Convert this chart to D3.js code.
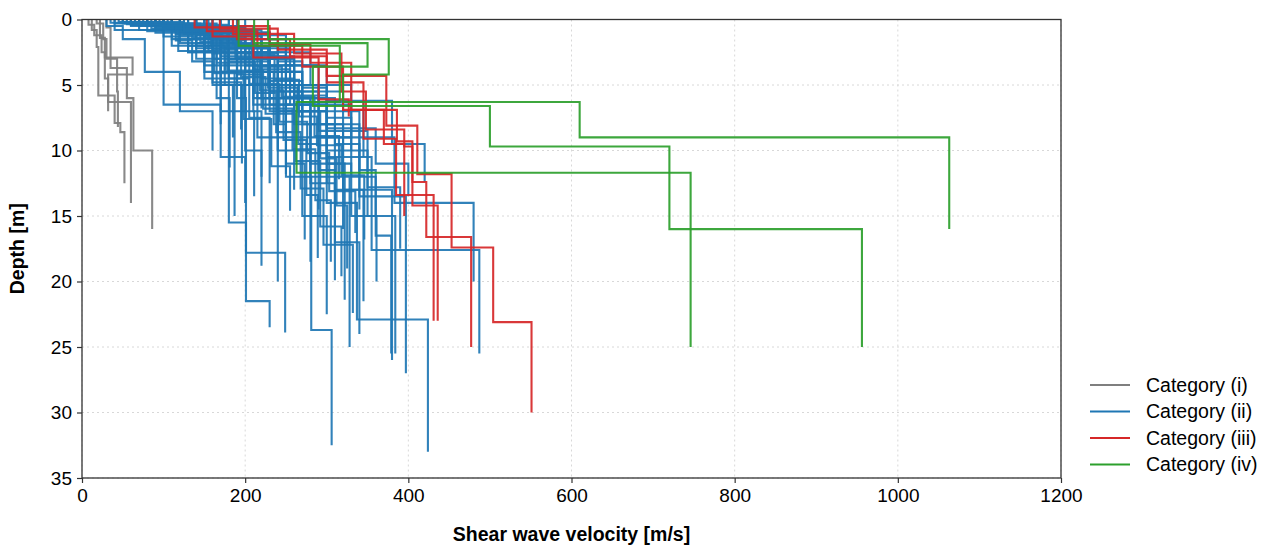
<!DOCTYPE html>
<html><head><meta charset="utf-8">
<script src="https://cdn.jsdelivr.net/npm/d3@7"></script>
<style>body{margin:0;background:#fff;} text{font-family:"Liberation Sans",Arial,sans-serif;fill:#000;}</style>
</head><body><svg id="c" width="1266" height="546"></svg>
<script>
// ---- data: each profile = list of layers [Vs (m/s), bottom depth (m)], top at 0 m ----
const categories = ["Category (i)", "Category (ii)", "Category (iii)", "Category (iv)"];
const xTicks = [0, 200, 400, 600, 800, 1000, 1200];
const yTicks = [0, 5, 10, 15, 20, 25, 30, 35];

const profilesI = [
  [[12,0.8],[18,2.1],[20,5.8],[40,7.9],[47,8.6],[52,12.5]],
  [[22,1.4],[28,2.9],[62,4.2],[32,6.3],[60,14]],
  [[30,0.6],[35,3.7],[55,6.0],[63,10],[86,16]],
  [[18,0.3],[26,1.5],[30,3.0],[43,5.5],[44,8.2]],
  [[8,0.4],[15,1.2],[24,2.5],[28,4.5],[32,7.0]]
];

const profilesII = [
  [[60,0.5],[110,1.5],[150,3.5],[180,15.5],[201,21.5],[230,23.5]],
  [[80,0.4],[130,2.0],[175,5.0],[200,10],[220,18.8]],
  [[100,0.6],[150,2.5],[190,6.0],[201,17.8],[249,23.9]],
  [[70,0.3],[120,1.2],[170,4.0],[215,9.0],[240,20]],
  [[120,0.8],[160,3.0],[210,6.5],[250,12],[281,23.7],[306,32.5]],
  [[150,1.0],[200,3.0],[260,7.0],[300,14],[337,22.9],[424,33]],
  [[90,0.5],[140,1.8],[200,5.0],[240,9.0],[270,15],[300,22.5]],
  [[110,0.7],[170,2.5],[220,6.0],[280,12],[328,25]],
  [[130,1.0],[180,3.2],[230,7.0],[290,11.5],[310,17],[340,24]],
  [[140,0.8],[210,3.0],[260,6.5],[330,12],[360,16.5],[379,25.5]],
  [[160,1.2],[220,4.0],[270,8.0],[320,13],[380,26]],
  [[100,0.5],[190,2.5],[250,6.0],[300,10],[350,15],[384,25.5]],
  [[170,1.0],[230,3.5],[290,7.0],[340,13.5],[397,27]],
  [[180,1.5],[250,5.0],[300,9.0],[383,14],[480,20]],
  [[120,0.6],[200,2.2],[255,5.5],[320,10.5],[355,17.6],[487,25.5]],
  [[90,0.6],[150,2.2],[230,6.0],[280,11],[322,21.4]],
  [[120,0.9],[180,3.0],[240,7.0],[280,12.5],[310,19.9]],
  [[140,1.0],[200,4.0],[260,8.0],[310,13],[345,21.5]],
  [[110,0.8],[170,2.8],[250,6.5],[300,11],[330,15],[361,20]],
  [[80,0.5],[140,2.0],[190,5.0],[240,10],[280,18.5]],
  [[60,0.4],[100,1.3],[140,3.0],[170,7.0],[211,13.5]],
  [[100,0.6],[160,2.6],[210,6.0],[250,11],[273,16.8]],
  [[70,0.5],[120,1.8],[150,4.0],[187,15]],
  [[90,0.7],[130,2.5],[165,6.0],[181,11.3]],
  [[110,0.5],[150,2.0],[170,5.0],[196,11]],
  [[130,0.8],[180,3.0],[210,7.0],[220,12]],
  [[50,0.3],[90,1.0],[130,2.5],[160,5.0],[185,9.0]],
  [[40,0.3],[70,0.8],[110,2.0],[150,4.5],[170,8.0]],
  [[150,0.6],[190,2.0],[240,5.0],[265,9.5],[290,14.5]],
  [[170,0.9],[210,3.0],[250,7.0],[300,10.5],[320,16]],
  [[120,0.5],[170,1.5],[220,4.5],[260,13]],
  [[60,0.4],[130,1.5],[170,4.5],[205,7.5],[230,12.5]],
  [[80,0.3],[140,1.2],[180,3.5],[215,6.0],[240,10]],
  [[100,0.4],[160,1.6],[200,4.0],[235,8.0],[250,11.8]],
  [[140,0.7],[180,2.2],[230,5.5],[270,9.0],[300,12.5]],
  [[160,1.0],[200,2.6],[240,5.0],[290,8.0],[340,11.5],[360,15]],
  [[120,0.6],[200,2.0],[250,4.0],[270,6.3],[345,10.5]],
  [[130,0.5],[170,1.8],[210,3.8],[255,6.5],[250,9.0]],
  [[190,0.8],[220,2.5],[280,5.0],[330,9.0],[290,11.5]],
  [[50,0.2],[100,0.6],[150,1.4],[200,3.5],[230,6.5],[280,9.0]],
  [[90,0.3],[120,1.0],[160,2.3],[190,4.2],[220,6.8]],
  [[70,0.3],[110,0.9],[140,2.2],[180,4.5],[200,6.0]],
  [[150,0.5],[210,1.5],[240,3.2],[270,5.2],[300,7.5],[330,10]],
  [[180,1.0],[230,2.8],[260,5.8],[300,8.3],[360,11],[400,13.5]],
  [[100,0.5],[130,1.5],[190,3.0],[240,5.5],[290,8.5],[350,12.8],[390,17.5]],
  [[200,1.2],[250,3.5],[300,6.2],[380,9.5],[420,12.4]],
  [[110,0.6],[150,1.3],[220,3.5],[260,6.0],[310,9.5],[340,14.5]],
  [[60,0.3],[140,1.0],[190,2.5],[230,4.7],[270,7.5]],
  [[30,0.5],[50,1.5],[77,4.0],[120,7.0],[160,10]],
  [[40,0.8],[100,6.5],[170,10.5],[200,14]],
  [[65,0.2],[95,0.5],[125,1.1],[155,2.4],[175,3.9]],
  [[45,0.2],[85,0.7],[115,1.6],[135,3.2],[160,4.8],[195,8.4]],
  [[140,0.3],[165,0.9],[185,1.9],[215,3.6],[245,5.9],[285,8.9],[315,12.2]],
  [[75,0.25],[105,0.7],[145,1.7],[195,4.4],[225,7.2],[262,10.8],[292,15.8],[318,19.6]],
  [[55,0.35],[115,1.1],[165,3.3],[212,5.6],[238,8.6],[268,12.9],[296,17.2],[332,22.4]],
  [[95,0.45],[135,1.4],[178,3.9],[222,6.8],[258,9.9],[286,13.8],[305,18.5]],
  [[125,0.55],[158,1.9],[205,4.9],[242,7.8],[276,10.2],[303,13.1],[335,16.3]],
  [[85,0.2],[125,0.8],[172,2.1],[228,5.2],[264,7.0],[292,10.6],[312,14.2],[325,19.0]],
  [[35,0.25],[80,0.9],[118,2.4],[162,4.1],[198,7.6],[232,11.2],[255,14.6]],
  [[155,0.4],[178,1.2],[208,2.7],[236,4.6],[266,7.4],[288,9.6],[318,11.9],[346,16.8]],
  [[105,0.3],[145,1.0],[188,2.9],[218,5.4],[247,9.2],[275,13.4],[289,18.2]]
];

const profilesIII = [
  [[138,0.6],[190,1.5],[255,2.8],[300,4.3],[373,8.1],[411,11.8],[453,17.4],[504,23.1],[551,30]],
  [[153,0.9],[215,2.0],[270,3.6],[320,6.9],[386,9.3],[405,12.4],[422,16.6],[477,25]],
  [[169,0.7],[240,2.3],[300,4.8],[345,9.1],[385,13.4],[431,23]],
  [[185,1.1],[260,2.6],[318,5.5],[348,8.4],[395,9.7],[405,14.2],[436,23]],
  [[191,0.5],[230,1.9],[280,3.3],[330,6.9],[370,9.5],[395,15]],
  [[160,1.3],[210,2.9],[290,6.1],[327,7.4]]
];

const profilesIV = [
  [[192,2.0],[316,6.3],[263,11.7],[746,25]],
  [[211,1.8],[350,3.6],[283,6.6],[500,9.7],[720,16],[956,25]],
  [[228,1.5],[376,4.2],[320,6.3],[610,9.0],[1063,16]]
];

const colors = ["#7f7f7f", "#1f77b4", "#d62728", "#2ca02c"];
const groups = [profilesI, profilesII, profilesIII, profilesIV];

// ---- layout ----
const svg = d3.select("#c");
const x = d3.scaleLinear().domain([0, 1200]).range([82, 1061]);
const y = d3.scaleLinear().domain([0, 35]).range([19.5, 478]);

// grid
const grid = svg.append("g");
grid.selectAll("line.gx").data(xTicks).join("line")
  .attr("x1", d => x(d)).attr("x2", d => x(d)).attr("y1", y(0)).attr("y2", y(35))
  .attr("stroke", "#d8d8d8").attr("stroke-width", 1).attr("stroke-dasharray", "2,3");
grid.selectAll("line.gy").data(yTicks).join("line")
  .attr("x1", x(0)).attr("x2", x(1200)).attr("y1", d => y(d)).attr("y2", d => y(d))
  .attr("stroke", "#d8d8d8").attr("stroke-width", 1).attr("stroke-dasharray", "2,3");

// step points
function stepPts(layers) {
  const pts = [];
  let top = 0;
  layers.forEach(([v, bot]) => { pts.push([v, top]); pts.push([v, bot]); top = bot; });
  return pts;
}
const line = d3.line().x(d => x(d[0])).y(d => y(d[1]));

const plot = svg.append("g");
groups.forEach((g, i) => {
  plot.append("g").selectAll("path").data(g).join("path")
    .attr("d", d => line(stepPts(d)))
    .attr("fill", "none").attr("stroke", colors[i]).attr("stroke-width", 2.1)
    .attr("stroke-opacity", 0.92).attr("stroke-linejoin", "miter");
});

// frame
svg.append("rect").attr("x", x(0)).attr("y", y(0)).attr("width", x(1200) - x(0)).attr("height", y(35) - y(0))
  .attr("fill", "none").attr("stroke", "#333").attr("stroke-width", 1.3);

// axes
const fs = "19px";
const xa = svg.append("g").attr("transform", `translate(0,${y(35)})`)
  .call(d3.axisBottom(x).tickValues(xTicks).tickSize(5).tickPadding(6).tickFormat(d3.format("d")));
const ya = svg.append("g").attr("transform", `translate(${x(0)},0)`)
  .call(d3.axisLeft(y).tickValues(yTicks).tickSize(5).tickPadding(5).tickFormat(d3.format("d")));
[xa, ya].forEach(a => {
  a.select(".domain").remove();
  a.selectAll("line").attr("stroke", "#333").attr("stroke-width", 1.2);
  a.selectAll("text").attr("font-size", fs).attr("font-family", '"Liberation Sans",Arial,sans-serif').attr("fill", "#000");
});

svg.append("text").attr("x", (x(0) + x(1200)) / 2).attr("y", 541).attr("text-anchor", "middle")
  .attr("font-size", "19.5px").attr("font-weight", "bold").text("Shear wave velocity [m/s]");
svg.append("text").attr("transform", `translate(24,${(y(0) + y(35)) / 2}) rotate(-90)`).attr("text-anchor", "middle")
  .attr("font-size", "19.5px").attr("font-weight", "bold").text("Depth [m]");

// legend
const leg = svg.append("g");
categories.forEach((c, i) => {
  const yy = 385 + i * 26.5;
  leg.append("line").attr("x1", 1090).attr("x2", 1130).attr("y1", yy).attr("y2", yy)
    .attr("stroke", colors[i]).attr("stroke-width", 2);
  leg.append("text").attr("x", 1146).attr("y", yy).attr("dy", "0.35em")
    .attr("font-size", "19.5px").text(c);
});
</script></body></html>
